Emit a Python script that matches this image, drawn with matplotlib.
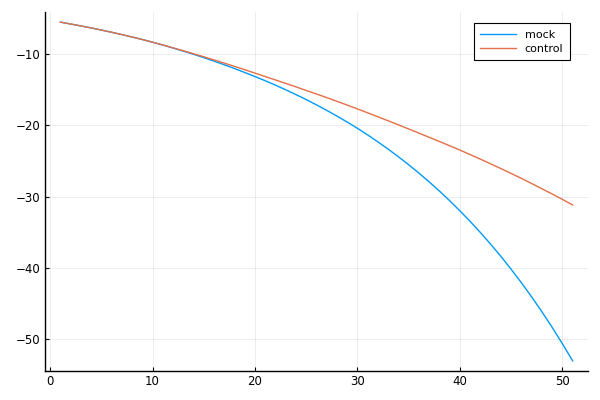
import matplotlib
matplotlib.use("Agg")
import matplotlib.pyplot as plt
from matplotlib.ticker import MultipleLocator

x = list(range(1, 52))

mock = [-5.48, -5.74, -6.01, -6.29, -6.59, -6.90, -7.23, -7.57, -7.92, -8.30,
        -8.70, -9.12, -9.55, -10.00, -10.47, -10.96, -11.47, -12.00, -12.56, -13.13,
        -13.72, -14.34, -14.99, -15.67, -16.37, -17.11, -17.88, -18.69, -19.53, -20.41,
        -21.34, -22.32, -23.34, -24.41, -25.53, -26.71, -27.94, -29.23, -30.59, -32.01,
        -33.50, -35.06, -36.70, -38.42, -40.23, -42.12, -44.11, -46.20, -48.39, -50.69,
        -53.10]

control = [-5.48, -5.74, -6.01, -6.29, -6.59, -6.90, -7.23, -7.57, -7.92, -8.30,
           -8.69, -9.09, -9.50, -9.92, -10.35, -10.79, -11.24, -11.70, -12.17, -12.65,
           -13.13, -13.61, -14.09, -14.58, -15.08, -15.58, -16.09, -16.61, -17.14, -17.68,
           -18.23, -18.79, -19.35, -19.92, -20.50, -21.08, -21.67, -22.26, -22.86, -23.47,
           -24.10, -24.74, -25.40, -26.07, -26.75, -27.45, -28.17, -28.90, -29.64, -30.40,
           -31.18]

fig = plt.figure(figsize=(6, 4), dpi=100)
ax = fig.add_axes([0.075, 0.0725, 0.905, 0.8975])

ax.plot(x, mock, color="#009AFA", lw=1.0, label="mock")
ax.plot(x, control, color="#E36F47", lw=1.0, label="control")

ax.margins(x=0.03, y=0.03)
ax.xaxis.set_major_locator(MultipleLocator(10))
ax.yaxis.set_major_locator(MultipleLocator(10))

ax.grid(True, color="black", alpha=0.1, lw=0.5)
for side in ("top", "right"):
    ax.spines[side].set_visible(False)
for side in ("left", "bottom"):
    ax.spines[side].set_linewidth(1.0)
ax.tick_params(direction="in", length=3, width=0.8, labelsize=8.5, pad=3)

leg = ax.legend(loc="upper right", bbox_to_anchor=(0.967, 0.969), fontsize=8,
                frameon=True, fancybox=False, edgecolor="black", framealpha=1,
                handlelength=3.2, borderaxespad=0, labelspacing=0.35,
                borderpad=0.6)
leg.get_frame().set_linewidth(0.8)

fig.savefig("out.png", dpi=100)
